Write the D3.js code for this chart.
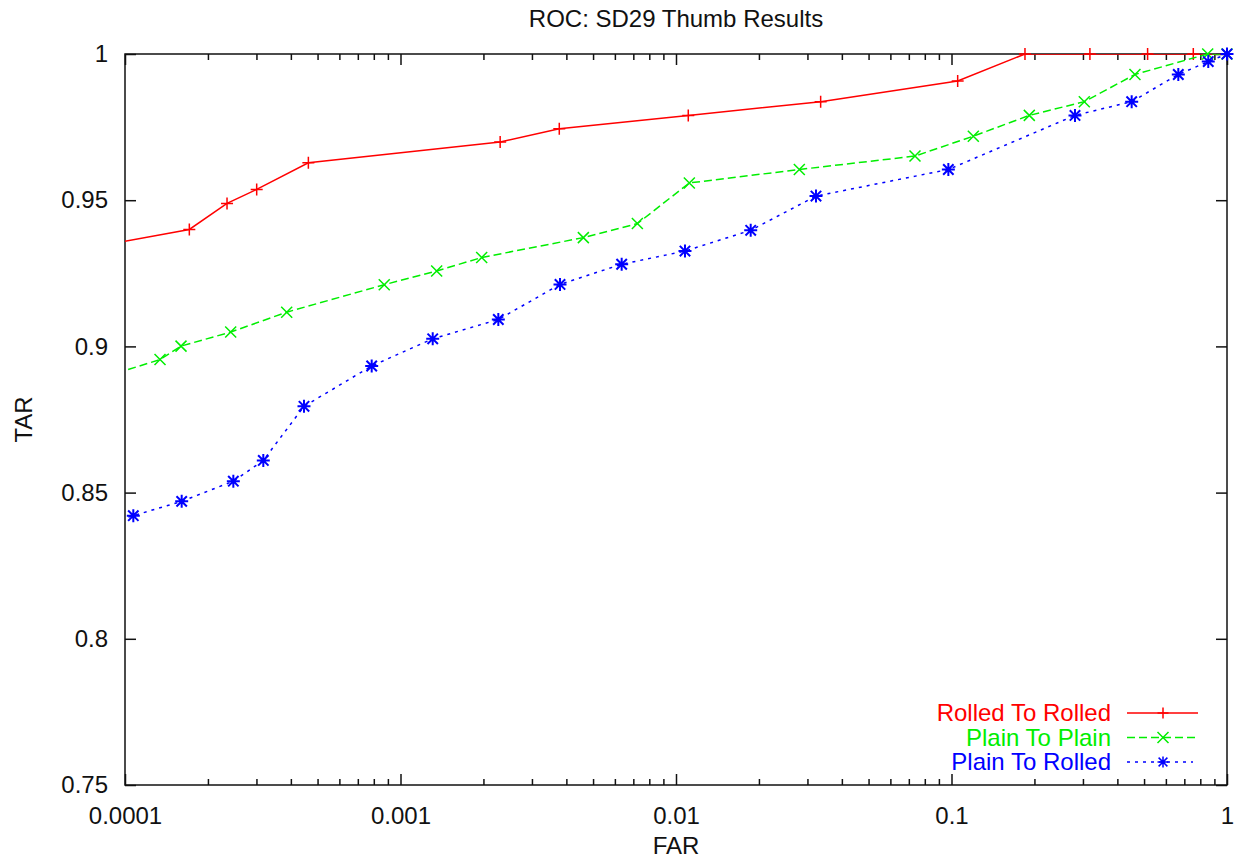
<!DOCTYPE html>
<html>
<head>
<meta charset="utf-8">
<script src="https://cdn.jsdelivr.net/npm/d3@7"></script>
<style>
  body { margin: 0; background: #fff; }
  text { font-family: "Liberation Sans", Arial, Helvetica, sans-serif; }
</style>
</head>
<body>
<script>
// ROC data (FAR, TAR); first point of some series lies left of the axis and gets clipped
var rolledFar = [0.00007, 0.0001712, 0.0002346, 0.0003006, 0.000463, 0.0023, 0.00377, 0.01108, 0.0335, 0.1053, 0.1848, 0.318, 0.515, 0.7545, 1.0];
var rolledTar = [0.9333, 0.9400, 0.9489, 0.9537, 0.9628, 0.9699, 0.9744, 0.9790, 0.9837, 0.9908, 1.0, 1.0, 1.0, 1.0, 1.0];

var plainFar = [0.00007, 0.000134, 0.0001597, 0.0002419, 0.0003863, 0.000873, 0.001353, 0.001971, 0.00461, 0.00724, 0.01118, 0.02803, 0.0737, 0.1200, 0.1916, 0.3034, 0.4634, 0.851, 1.0];
var plainTar = [0.8872, 0.8955, 0.9001, 0.9049, 0.9117, 0.9211, 0.9258, 0.9304, 0.9372, 0.9420, 0.9559, 0.9605, 0.9651, 0.9719, 0.9790, 0.9837, 0.9930, 1.0, 1.0];

var mixedFar = [0.00007, 0.0001072, 0.0001606, 0.0002473, 0.0003177, 0.0004464, 0.000786, 0.001309, 0.002265, 0.003793, 0.00635, 0.01078, 0.01867, 0.03222, 0.0974, 0.2807, 0.4508, 0.6657, 0.855, 1.0];
var mixedTar = [0.8370, 0.8421, 0.8470, 0.8539, 0.8610, 0.8795, 0.8933, 0.9026, 0.9092, 0.9212, 0.9281, 0.9326, 0.9397, 0.9514, 0.9605, 0.9790, 0.9837, 0.9930, 0.9974, 1.0];

var seriesNames = ["Rolled To Rolled", "Plain To Plain", "Plain To Rolled"];
var seriesColors = ["#ff0000", "#00ee00", "#0000ff"];
var xTickValues = [0.0001, 0.001, 0.01, 0.1, 1];
var xTickLabels = ["0.0001", "0.001", "0.01", "0.1", "1"];
var yTickValues = [0.75, 0.8, 0.85, 0.9, 0.95, 1];
var yTickLabels = ["0.75", "0.8", "0.85", "0.9", "0.95", "1"];

var W = 1239, H = 863;
var plotL = 125, plotR = 1227, plotT = 54, plotB = 785;

var svg = d3.select("body").append("svg")
  .attr("width", W)
  .attr("height", H);

var x = d3.scaleLog().domain([0.0001, 1]).range([plotL, plotR]);
var y = d3.scaleLinear().domain([0.75, 1]).range([plotB, plotT]);

svg.append("clipPath").attr("id", "plotclip")
  .append("rect")
  .attr("x", plotL).attr("y", plotT)
  .attr("width", plotR - plotL).attr("height", plotB - plotT);

// minor ticks of the log axis
var minorTicks = x.ticks().filter(function (t) { return xTickValues.indexOf(t) < 0; });

function styleAxis(g) {
  g.select(".domain").remove();
  g.selectAll("line").attr("stroke", "#111").attr("stroke-width", 1.5);
  g.selectAll("text").attr("font-size", 24).attr("fill", "#111");
}

// bottom axis
svg.append("g")
  .attr("transform", "translate(0," + plotB + ")")
  .call(d3.axisBottom(x).tickValues(xTickValues).tickSize(-11).tickPadding(21)
    .tickFormat(function (d, i) { return xTickLabels[i]; }))
  .call(styleAxis)
  .selectAll("text").attr("dy", "0.75em");
svg.append("g")
  .attr("transform", "translate(0," + plotB + ")")
  .call(d3.axisBottom(x).tickValues(minorTicks).tickSize(-6).tickFormat(""))
  .call(styleAxis);

// top axis (mirrored)
svg.append("g")
  .attr("transform", "translate(0," + plotT + ")")
  .call(d3.axisTop(x).tickValues(xTickValues).tickSize(-11).tickFormat(""))
  .call(styleAxis);
svg.append("g")
  .attr("transform", "translate(0," + plotT + ")")
  .call(d3.axisTop(x).tickValues(minorTicks).tickSize(-6).tickFormat(""))
  .call(styleAxis);

// left and right axes
svg.append("g")
  .attr("transform", "translate(" + plotL + ",0)")
  .call(d3.axisLeft(y).tickValues(yTickValues).tickSize(-11).tickPadding(17)
    .tickFormat(function (d, i) { return yTickLabels[i]; }))
  .call(styleAxis);
svg.append("g")
  .attr("transform", "translate(" + plotR + ",0)")
  .call(d3.axisRight(y).tickValues(yTickValues).tickSize(-11).tickFormat(""))
  .call(styleAxis);

// frame
svg.append("rect")
  .attr("x", plotL).attr("y", plotT)
  .attr("width", plotR - plotL).attr("height", plotB - plotT)
  .attr("fill", "none").attr("stroke", "#111").attr("stroke-width", 1.5);

// titles
svg.append("text")
  .attr("x", (plotL + plotR) / 2).attr("y", 27)
  .attr("text-anchor", "middle").attr("font-size", 24).attr("fill", "#111")
  .text("ROC: SD29 Thumb Results");
svg.append("text")
  .attr("x", (plotL + plotR) / 2).attr("y", 854)
  .attr("text-anchor", "middle").attr("font-size", 24).attr("fill", "#111")
  .text("FAR");
svg.append("text")
  .attr("transform", "translate(32," + ((plotT + plotB) / 2) + ") rotate(-90)")
  .attr("text-anchor", "middle").attr("font-size", 24).attr("fill", "#111")
  .text("TAR");

// marker shapes
function markerPath(kind, s) {
  var p = d3.path();
  if (kind === "plus" || kind === "star") {
    p.moveTo(-s, 0); p.lineTo(s, 0);
    p.moveTo(0, -s); p.lineTo(0, s);
  }
  if (kind === "cross" || kind === "star") {
    var c = kind === "cross" ? s : s * 0.8;
    p.moveTo(-c, -c); p.lineTo(c, c);
    p.moveTo(-c, c); p.lineTo(c, -c);
  }
  return p.toString();
}

var series = [
  { far: rolledFar, tar: rolledTar, dash: null, marker: "plus", size: 6 },
  { far: plainFar, tar: plainTar, dash: "8,4", marker: "cross", size: 5.5 },
  { far: mixedFar, tar: mixedTar, dash: "3,5", marker: "star", size: 6.5 }
];

var line = d3.line()
  .x(function (d) { return x(d[0]); })
  .y(function (d) { return y(d[1]); });

series.forEach(function (s, k) {
  var pts = s.far.map(function (f, i) { return [f, s.tar[i]]; });
  var g = svg.append("g");
  g.append("path")
    .datum(pts)
    .attr("clip-path", "url(#plotclip)")
    .attr("d", line)
    .attr("fill", "none")
    .attr("stroke", seriesColors[k])
    .attr("stroke-width", 1.5)
    .attr("stroke-dasharray", s.dash);
  g.selectAll(".mk")
    .data(pts.filter(function (d) { return d[0] >= 0.0001; }))
    .enter().append("path")
    .attr("transform", function (d) { return "translate(" + x(d[0]) + "," + y(d[1]) + ")"; })
    .attr("d", markerPath(s.marker, s.size))
    .attr("fill", "none")
    .attr("stroke", seriesColors[k])
    .attr("stroke-width", s.marker === "star" ? 2 : 1.5);

  // legend row
  var ly = 713 + k * 24.5;
  svg.append("text")
    .attr("x", 1111).attr("y", ly)
    .attr("dy", "0.35em")
    .attr("text-anchor", "end").attr("font-size", 24)
    .attr("fill", seriesColors[k])
    .text(seriesNames[k]);
  svg.append("line")
    .attr("x1", 1127).attr("x2", k === 2 ? 1193 : 1198)
    .attr("y1", ly).attr("y2", ly)
    .attr("stroke", seriesColors[k]).attr("stroke-width", 1.5)
    .attr("stroke-dasharray", s.dash);
  svg.append("path")
    .attr("transform", "translate(1163," + ly + ")")
    .attr("d", markerPath(s.marker, 5.5))
    .attr("fill", "none")
    .attr("stroke", seriesColors[k])
    .attr("stroke-width", 1.5);
});
</script>
</body>
</html>
